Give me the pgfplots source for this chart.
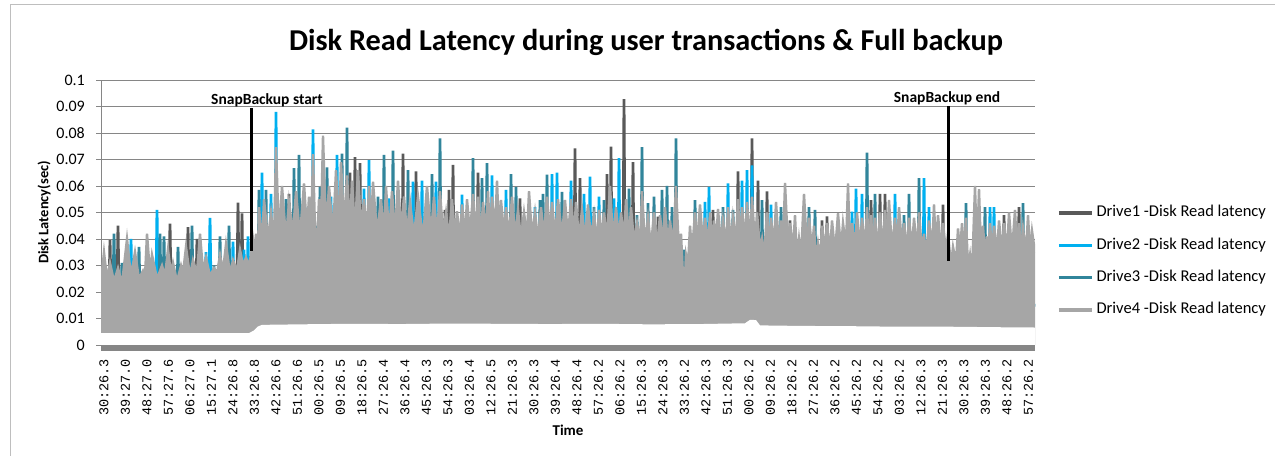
\documentclass[border=0pt]{standalone}
\usepackage{fontspec}
\setmainfont{Carlito}
\newfontfamily\monofont{Liberation Mono}
\usepackage{pgfplots}
\usepackage{pgfplotstable}
\pgfplotsset{compat=1.18}

\definecolor{cA}{RGB}{89,89,89}
\definecolor{cB}{RGB}{0,176,240}
\definecolor{cC}{RGB}{49,133,155}
\definecolor{cD}{RGB}{166,166,166}
\definecolor{gridc}{RGB}{134,134,134}
\definecolor{bandc}{RGB}{134,134,134}
\definecolor{framec}{RGB}{190,190,190}

% lower edge of the dense band (minimum of all drives)
\pgfplotstableread{
x y
101 0.0045
249 0.0045
254 0.0055
258 0.0070
262 0.0076
300 0.0078
350 0.0080
400 0.0079
450 0.0081
500 0.0080
550 0.0079
600 0.0080
650 0.0078
700 0.0079
745 0.0082
750 0.0095
756 0.0094
760 0.0074
800 0.0072
850 0.0071
900 0.0069
950 0.0069
1000 0.0067
1035 0.0066
}\lowedge

% Drive1
\pgfplotstableread{
x y
101 0.015
108.8 0.015
110 0.0396
111.2 0.015
116.8 0.015
118 0.045
119.2 0.015
168.8 0.015
170 0.0458
171.2 0.015
186.8 0.015
188 0.0445
189.2 0.015
195.8 0.015
197 0.040
198.2 0.015
236.8 0.015
238 0.0537
239.2 0.015
240.8 0.015
242 0.0497
243.2 0.015
287.8 0.015
289 0.057
290.2 0.015
348.8 0.015
350 0.065
351.2 0.015
353.8 0.015
355 0.0709
356.2 0.015
358.8 0.015
360 0.0686
361.2 0.015
401.8 0.015
403 0.0722
404.2 0.015
414.8 0.015
416 0.0655
417.2 0.015
443.8 0.015
445 0.051
446.2 0.015
447.8 0.015
449 0.0585
450.2 0.015
451.8 0.015
453 0.068
454.2 0.015
476.8 0.015
478 0.065
479.2 0.015
518.8 0.015
520 0.0553
521.2 0.015
522.8 0.015
524 0.0484
525.2 0.015
573.8 0.015
575 0.0742
576.2 0.015
578.8 0.015
580 0.063
581.2 0.015
605.8 0.015
607 0.0645
608.2 0.015
609.8 0.015
611 0.0749
612.2 0.015
622.8 0.015
624 0.0928
625.2 0.015
631.8 0.015
633 0.069
634.2 0.015
656.8 0.015
658 0.0484
659.2 0.015
711.8 0.015
713 0.051
714.2 0.015
736.8 0.015
738 0.0655
739.2 0.015
750.8 0.015
752 0.078
753.2 0.015
756.8 0.015
758 0.062
759.2 0.015
765.8 0.015
767 0.058
768.2 0.015
788.8 0.015
790 0.047
791.2 0.015
820.8 0.015
822 0.047
823.2 0.015
825.8 0.015
827 0.0485
828.2 0.015
869.8 0.015
871 0.0547
872.2 0.015
878.8 0.015
880 0.057
881.2 0.015
883.8 0.015
885 0.057
886.2 0.015
941.8 0.015
943 0.053
944.2 0.015
1002.8 0.015
1004 0.049
1005.2 0.015
1017.8 0.015
1019 0.052
1020.2 0.015
1035 0.015
}\driveA

% Drive2
\pgfplotstableread{
x y
101 0.015
129.8 0.015
131 0.040
132.2 0.015
155.8 0.015
157 0.051
158.2 0.015
204.8 0.015
206 0.035
207.2 0.015
208.8 0.015
210 0.048
211.2 0.015
231.8 0.015
233 0.039
234.2 0.015
242.8 0.015
244 0.036
245.2 0.015
246.8 0.015
248 0.041
249.2 0.015
260.8 0.015
262 0.065
263.2 0.015
269.8 0.015
271 0.057
272.2 0.015
274.8 0.015
276 0.088
277.2 0.015
306.8 0.015
308 0.052
309.2 0.015
311.8 0.015
313 0.0814
314.2 0.015
329.8 0.015
331 0.056
332.2 0.015
335.8 0.015
337 0.0717
338.2 0.015
362.8 0.015
364 0.059
365.2 0.015
367.8 0.015
369 0.0698
370.2 0.015
387.8 0.015
389 0.0553
390.2 0.015
411.8 0.015
413 0.0616
414.2 0.015
420.8 0.015
422 0.062
423.2 0.015
434.8 0.015
436 0.0616
437.2 0.015
460.8 0.015
462 0.0567
463.2 0.015
490.8 0.015
492 0.064
493.2 0.015
504.8 0.015
506 0.0585
507.2 0.015
533.8 0.015
535 0.052
536.2 0.015
550.8 0.015
552 0.0645
553.2 0.015
555.8 0.015
557 0.065
558.2 0.015
569.8 0.015
571 0.062
572.2 0.015
582.8 0.015
584 0.057
585.2 0.015
588.8 0.015
590 0.0635
591.2 0.015
597.8 0.015
599 0.056
600.2 0.015
612.8 0.015
614 0.0553
615.2 0.015
617.8 0.015
619 0.0705
620.2 0.015
703.8 0.015
705 0.054
706.2 0.015
707.8 0.015
709 0.0597
710.2 0.015
726.8 0.015
728 0.061
729.2 0.015
740.8 0.015
742 0.062
743.2 0.015
745.8 0.015
747 0.066
748.2 0.015
750.8 0.015
752 0.0678
753.2 0.015
769.8 0.015
771 0.053
772.2 0.015
850.8 0.015
852 0.0503
853.2 0.015
854.8 0.015
856 0.059
857.2 0.015
860.8 0.015
862 0.057
863.2 0.015
893.8 0.015
895 0.057
896.2 0.015
922.8 0.015
924 0.063
925.2 0.015
927.8 0.015
929 0.052
930.2 0.015
988.8 0.015
990 0.052
991.2 0.015
992.8 0.015
994 0.052
995.2 0.015
1035 0.015
}\driveB

% Drive3
\pgfplotstableread{
x y
101 0.015
112.8 0.015
114 0.042
115.2 0.015
120.8 0.015
122 0.031
123.2 0.015
137.8 0.015
139 0.037
140.2 0.015
158.8 0.015
160 0.042
161.2 0.015
162.8 0.015
164 0.041
165.2 0.015
176.8 0.015
178 0.037
179.2 0.015
190.8 0.015
192 0.045
193.2 0.015
212.8 0.015
214 0.030
215.2 0.015
218.8 0.015
220 0.041
221.2 0.015
227.8 0.015
229 0.045
230.2 0.015
257.8 0.015
259 0.0585
260.2 0.015
264.8 0.015
266 0.0585
267.2 0.015
284.8 0.015
286 0.055
287.2 0.015
292.8 0.015
294 0.0667
295.2 0.015
297.8 0.015
299 0.0717
300.2 0.015
315 0.015
316 0.045
317 0.015
318.8 0.015
320 0.0597
321.2 0.015
325.8 0.015
327 0.067
328.2 0.015
340.8 0.015
342 0.0722
343.2 0.015
345.8 0.015
347 0.082
348.2 0.015
376.8 0.015
378 0.056
379.2 0.015
382.8 0.015
384 0.0717
385.2 0.015
391.8 0.015
393 0.0733
394.2 0.015
406.8 0.015
408 0.066
409.2 0.015
430.8 0.015
432 0.0645
433.2 0.015
438.8 0.015
440 0.078
441.2 0.015
471.8 0.015
473 0.0705
474.2 0.015
480.8 0.015
482 0.063
483.2 0.015
485.8 0.015
487 0.0686
488.2 0.015
509.8 0.015
511 0.0645
512.2 0.015
514.8 0.015
516 0.0597
517.2 0.015
538.8 0.015
540 0.0547
541.2 0.015
541.8 0.015
543 0.057
544.2 0.015
545.8 0.015
547 0.0643
548.2 0.015
560.8 0.015
562 0.0578
563.2 0.015
592.8 0.015
594 0.052
595.2 0.015
602.8 0.015
604 0.0547
605.2 0.015
627.8 0.015
629 0.059
630.2 0.015
635.8 0.015
637 0.049
638.2 0.015
640.8 0.015
642 0.0747
643.2 0.015
646.8 0.015
648 0.0535
649.2 0.015
652.8 0.015
654 0.056
655.2 0.015
660.8 0.015
662 0.0585
663.2 0.015
665.8 0.015
667 0.060
668.2 0.015
670.8 0.015
672 0.052
673.2 0.015
674.8 0.015
676 0.078
677.2 0.015
683 0.015
684 0.036
685 0.015
693.8 0.015
695 0.0547
696.2 0.015
721.8 0.015
723 0.052
724.2 0.015
731.8 0.015
733 0.051
734.2 0.015
760.8 0.015
762 0.0547
763.2 0.015
779.8 0.015
781 0.052
782.2 0.015
807.8 0.015
809 0.052
810.2 0.015
813.8 0.015
815 0.051
816.2 0.015
865.8 0.015
867 0.0726
868.2 0.015
873.8 0.015
875 0.057
876.2 0.015
902.8 0.015
904 0.049
905.2 0.015
907.8 0.015
909 0.057
910.2 0.015
917.8 0.015
919 0.063
920.2 0.015
964.8 0.015
966 0.0535
967.2 0.015
983.8 0.015
985 0.052
986.2 0.015
1021.8 0.015
1023 0.0535
1024.2 0.015
1030.8 0.015
1032 0.041
1033.2 0.015
1035 0.015
}\driveC

% Drive4
\pgfplotstableread{
x y
101 0.024
104 0.035
107 0.025
110 0.031
114 0.024
118 0.029
122 0.023
127 0.040
131 0.026
135 0.035
139 0.025
143 0.028
145 0.026
147 0.042
150 0.027
152 0.034
157 0.025
162 0.030
165 0.026
168 0.036
171 0.027
173 0.031
177 0.024
181 0.030
183 0.027
186 0.037
190 0.026
193 0.032
197 0.027
200 0.042
203 0.028
206 0.033
210 0.026
214 0.029
217 0.027
220 0.034
223 0.028
226 0.038
230 0.027
233 0.032
237 0.028
240 0.036
243 0.030
246 0.033
249 0.030
251 0.034
253 0.040
255 0.034
256 0.042
258 0.036
259 0.052
262 0.038
264 0.055
268 0.040
271 0.050
274 0.039
276 0.0747
279 0.041
282 0.060
286 0.040
289 0.054
293 0.042
296 0.058
300 0.041
304 0.061
307 0.043
309 0.056
311 0.042
313 0.072
316 0.030
319 0.055
321 0.044
323 0.079
326 0.043
329 0.060
333 0.042
336 0.066
339 0.044
341 0.069
344 0.045
347 0.064
350 0.044
352 0.062
355 0.043
358 0.066
361 0.044
364 0.055
367 0.042
369 0.060
371 0.043
373 0.0616
377 0.042
381 0.055
384 0.041
386 0.060
389 0.042
392 0.058
395 0.042
398 0.062
401 0.043
404 0.056
407 0.042
410 0.054
414 0.041
418 0.056
423 0.040
427 0.060
431 0.042
434 0.056
437 0.041
440 0.058
443 0.042
446 0.050
449 0.040
452 0.055
455 0.041
457 0.0505
460 0.040
462 0.053
465 0.041
467 0.055
470 0.042
473 0.057
476 0.042
478 0.056
481 0.041
483 0.054
486 0.042
488 0.058
490 0.042
492 0.056
495 0.043
497 0.062
499 0.043
501 0.0547
504 0.042
506 0.052
509 0.041
512 0.056
515 0.041
518 0.051
521 0.040
524 0.050
527 0.041
529 0.058
532 0.041
535 0.050
538 0.040
541 0.052
544 0.041
547 0.056
550 0.042
552 0.054
555 0.041
558 0.055
562 0.041
565 0.0547
568 0.041
571 0.055
574 0.041
576 0.054
579 0.040
582 0.051
585 0.040
588 0.053
591 0.040
594 0.049
597 0.039
599 0.051
602 0.040
604 0.050
607 0.040
610 0.060
613 0.040
616 0.052
619 0.040
621 0.050
624 0.040
626 0.055
629 0.040
631 0.052
634 0.039
637 0.046
640 0.038
642 0.058
645 0.038
648 0.048
651 0.037
654 0.050
657 0.037
660 0.049
663 0.038
665 0.052
668 0.037
670 0.047
673 0.037
676 0.060
679 0.035
681 0.042
684 0.018
686 0.034
688 0.030
690 0.045
692 0.035
695 0.050
697 0.038
700 0.053
703 0.038
705 0.048
708 0.038
710 0.050
712 0.038
714 0.047
716 0.038
718 0.0513
721 0.038
723 0.047
726 0.038
728 0.052
731 0.038
733 0.048
736 0.039
738 0.055
740 0.039
742 0.052
745 0.039
747 0.054
750 0.039
752 0.056
755 0.038
757 0.050
760 0.036
762 0.040
764 0.033
767 0.050
769 0.037
771 0.048
774 0.037
776 0.054
779 0.037
781 0.047
783 0.037
785 0.0612
788 0.037
790 0.046
793 0.036
795 0.049
797 0.032
799 0.040
801 0.033
804 0.057
807 0.036
809 0.048
812 0.036
814 0.045
816 0.031
818 0.038
820 0.032
822 0.045
825 0.036
827 0.046
830 0.035
832 0.047
835 0.035
838 0.0497
841 0.036
843 0.046
846 0.037
848 0.061
850 0.036
852 0.046
855 0.036
857 0.050
860 0.037
862 0.048
865 0.036
867 0.052
869 0.036
871 0.049
873 0.037
875 0.048
878 0.036
880 0.050
883 0.036
885 0.051
887 0.037
889 0.0547
892 0.036
895 0.048
897 0.036
899 0.052
902 0.037
904 0.046
907 0.036
909 0.048
912 0.036
914 0.048
917 0.036
919 0.050
922 0.035
924 0.042
926 0.033
929 0.047
932 0.036
934 0.053
936 0.036
938 0.049
941 0.036
943 0.046
946 0.035
948 0.042
951 0.030
953 0.037
956 0.031
958 0.044
960 0.035
962 0.046
964 0.035
966 0.048
968 0.029
970 0.034
972 0.027
975 0.060
977 0.035
979 0.0588
981 0.035
983 0.045
985 0.034
987 0.041
988 0.033
990 0.046
992 0.035
994 0.045
997 0.035
999 0.047
1002 0.035
1004 0.046
1007 0.035
1009 0.050
1012 0.035
1015 0.051
1017 0.035
1019 0.046
1021 0.035
1023 0.044
1026 0.035
1028 0.049
1030 0.035
1032 0.043
1035 0.035
}\driveD

\begin{document}
\begin{tikzpicture}
\useasboundingbox (0bp,0bp) rectangle (1275bp,456bp);
\fill[white] (0bp,0bp) rectangle (1275bp,456bp);
\draw[framec, line width=1bp] (10bp,-20bp) rectangle (1300bp,451bp);
\begin{axis}[
  at={(101bp,111bp)}, anchor=south west,
  scale only axis, width=934bp, height=265bp,
  xmin=101, xmax=1035, ymin=0, ymax=0.1,
  axis x line*=bottom, axis y line*=left,
  x axis line style={draw=none},
  y axis line style={draw=gridc, line width=0.9bp},
  ytick={0,0.01,0.02,0.03,0.04,0.05,0.06,0.07,0.08,0.09,0.1},
  yticklabels={0,0.01,0.02,0.03,0.04,0.05,0.06,0.07,0.08,0.09,0.1},
  ymajorgrids, major grid style={draw=gridc, line width=0.9bp},
  tick align=outside, major tick length=5bp,
  ytick style={draw=gridc, line width=0.9bp},
  xtick={104,125.5,...,1029},
  xticklabels={30:26.3,39:27.0,48:27.0,57:27.6,06:27.0,15:27.1,24:26.8,33:26.8,42:26.6,51:26.6,00:26.5,09:26.5,18:26.5,27:26.4,36:26.4,45:26.3,54:26.3,03:26.4,12:26.5,21:26.3,30:26.3,39:26.4,48:26.4,57:26.2,06:26.2,15:26.3,24:26.3,33:26.2,42:26.3,51:26.3,00:26.2,09:26.2,18:26.2,27:26.2,36:26.2,45:26.2,54:26.2,03:26.2,12:26.3,21:26.3,30:26.3,39:26.3,48:26.2,57:26.2},
  xtick style={draw=none},
  xticklabel style={rotate=90, anchor=east, font=\monofont\fontsize{13.5bp}{14bp}\selectfont, inner xsep=9bp, inner ysep=0pt},
  yticklabel style={font=\fontsize{16bp}{18bp}\selectfont, anchor=east, inner sep=0pt, xshift=-11bp},
  xlabel={Time},
  xlabel style={at={(axis description cs:0.5,-0.3208)}, anchor=center, font=\bfseries\fontsize{15bp}{17bp}\selectfont},
  ylabel={Disk Latency(sec)},
  ylabel style={at={(axis description cs:-0.061,0.5)}, anchor=center, font=\bfseries\fontsize{14.5bp}{16bp}\selectfont},
  legend image code/.code={\draw[#1, line width=3.5bp] (0bp,0bp) -- (33bp,0bp);},
  legend cell align=left,
  legend style={at={(axis description cs:1.0236,0.3151)}, anchor=west, draw=none, fill=none, inner sep=0pt, outer sep=0pt, row sep=17.1bp, font=\fontsize{16.5bp}{18bp}\selectfont, nodes={inner xsep=3bp, inner ysep=0pt, text height=11.5bp, text depth=3.7bp}},
]
\addplot[cA, line width=2.8bp, forget plot] table[x=x, y=y] {\driveA};
\addplot[cB, line width=2.8bp, forget plot] table[x=x, y=y] {\driveB};
\addplot[cC, line width=2.8bp, forget plot] table[x=x, y=y] {\driveC};
\addplot[draw=none, fill=cD, forget plot] table[x=x, y=y] {\driveD} \closedcycle;
\addplot[cD, line width=2.4bp, forget plot] table[x=x, y=y] {\driveD};
\addplot[draw=none, fill=white, forget plot] table[x=x, y=y] {\lowedge} \closedcycle;
\addplot[black, line width=3bp, forget plot] coordinates {(251,0.0355) (251,0.0893)};
\addplot[black, line width=3bp, forget plot] coordinates {(948,0.0318) (948,0.0900)};
\node[font=\bfseries\fontsize{15.5bp}{17bp}\selectfont, anchor=center] at (axis cs:267,0.0925) {SnapBackup start};
\node[font=\bfseries\fontsize{15.5bp}{17bp}\selectfont, anchor=center] at (axis cs:947,0.0932) {SnapBackup end};
\addlegendimage{cA}
\addlegendimage{cB}
\addlegendimage{cC}
\addlegendimage{cD}
\legend{Drive1 -Disk Read latency, Drive2 -Disk Read latency, Drive3 -Disk Read latency, Drive4 -Disk Read latency}
\end{axis}
\fill[bandc] (101bp,105bp) rectangle (1035bp,111bp);
\node[font=\bfseries\fontsize{30.3bp}{33bp}\selectfont] at (646bp,414bp) {Disk Read Latency during user transactions \& Full backup};
\end{tikzpicture}
\end{document}
